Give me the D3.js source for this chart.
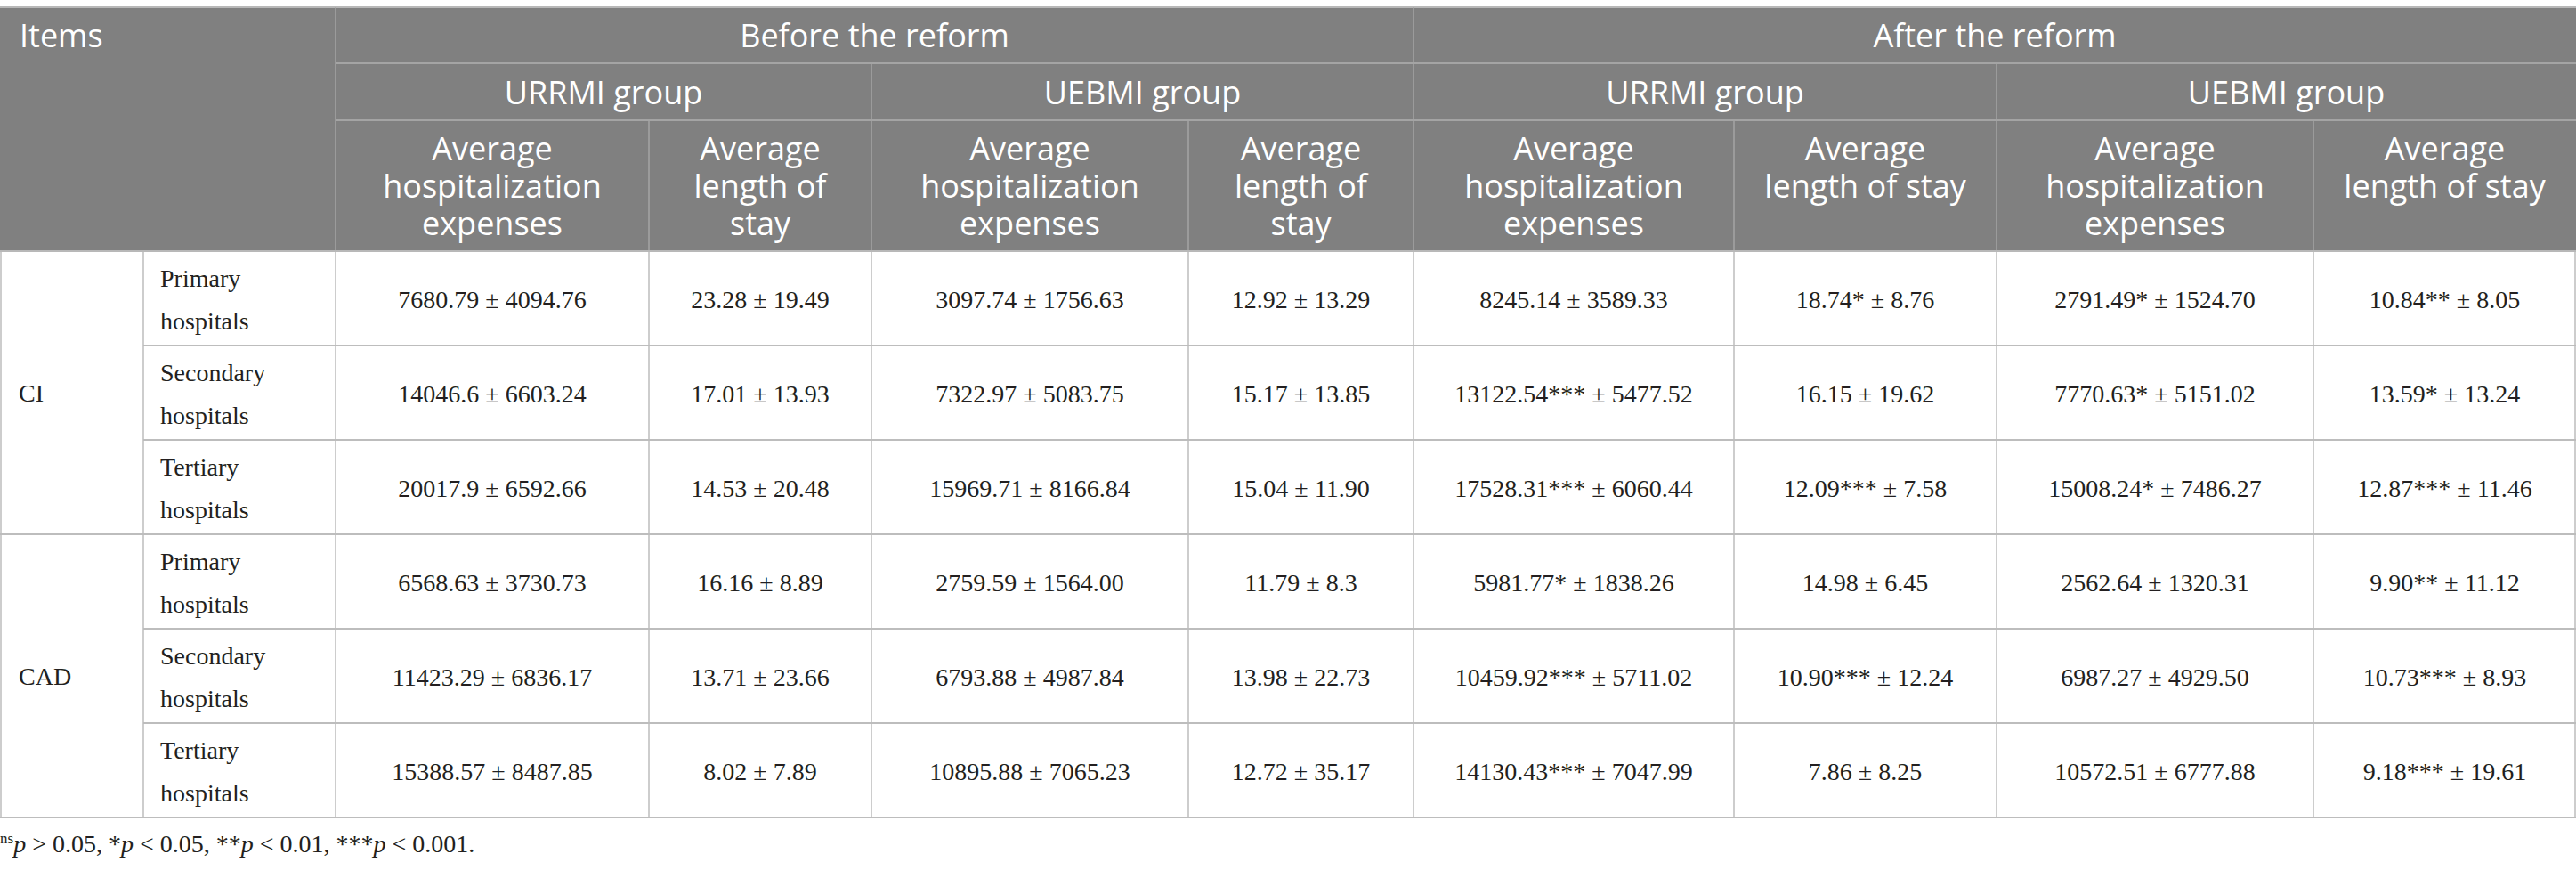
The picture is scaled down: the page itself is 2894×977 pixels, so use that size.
<!DOCTYPE html>
<html>
<head>
<meta charset="utf-8">
<script src="https://cdn.jsdelivr.net/npm/d3@7"></script>
<style>
  body { margin: 0; background: #fff; }
  svg { display: block; }
  .head { font-family: "Open Sans", "Noto Sans", sans-serif; fill: #fff; font-size: 36px; }
  .cell { font-family: "Liberation Serif", "DejaVu Serif", serif; fill: #231f20; font-size: 28px; }
</style>
</head>
<body>
<svg id="table" width="2894" height="977"></svg>
<script>
// ---- table content ----
const diseases = ["CI", "CAD"];
const levels = [["Primary", "hospitals"], ["Secondary", "hospitals"], ["Tertiary", "hospitals"]];
const periods = ["Before the reform", "After the reform"];
const groups = ["URRMI group", "UEBMI group"];
const measureHeads = [
  ["Average", "hospitalization", "expenses"],
  ["Average", "length of", "stay"],
  ["Average", "hospitalization", "expenses"],
  ["Average", "length of", "stay"],
  ["Average", "hospitalization", "expenses"],
  ["Average", "length of stay"],
  ["Average", "hospitalization", "expenses"],
  ["Average", "length of stay"]
];

// rows: CI primary, secondary, tertiary, CAD primary, secondary, tertiary
const beforeUrrmiCost = ["7680.79 ± 4094.76", "14046.6 ± 6603.24", "20017.9 ± 6592.66", "6568.63 ± 3730.73", "11423.29 ± 6836.17", "15388.57 ± 8487.85"];
const beforeUrrmiStay = ["23.28 ± 19.49", "17.01 ± 13.93", "14.53 ± 20.48", "16.16 ± 8.89", "13.71 ± 23.66", "8.02 ± 7.89"];
const beforeUebmiCost = ["3097.74 ± 1756.63", "7322.97 ± 5083.75", "15969.71 ± 8166.84", "2759.59 ± 1564.00", "6793.88 ± 4987.84", "10895.88 ± 7065.23"];
const beforeUebmiStay = ["12.92 ± 13.29", "15.17 ± 13.85", "15.04 ± 11.90", "11.79 ± 8.3", "13.98 ± 22.73", "12.72 ± 35.17"];
const afterUrrmiCost = ["8245.14 ± 3589.33", "13122.54*** ± 5477.52", "17528.31*** ± 6060.44", "5981.77* ± 1838.26", "10459.92*** ± 5711.02", "14130.43*** ± 7047.99"];
const afterUrrmiStay = ["18.74* ± 8.76", "16.15 ± 19.62", "12.09*** ± 7.58", "14.98 ± 6.45", "10.90*** ± 12.24", "7.86 ± 8.25"];
const afterUebmiCost = ["2791.49* ± 1524.70", "7770.63* ± 5151.02", "15008.24* ± 7486.27", "2562.64 ± 1320.31", "6987.27 ± 4929.50", "10572.51 ± 6777.88"];
const afterUebmiStay = ["10.84** ± 8.05", "13.59* ± 13.24", "12.87*** ± 11.46", "9.90** ± 11.12", "10.73*** ± 8.93", "9.18*** ± 19.61"];

const valueCols = [beforeUrrmiCost, beforeUrrmiStay, beforeUebmiCost, beforeUebmiStay,
                   afterUrrmiCost, afterUrrmiStay, afterUebmiCost, afterUebmiStay];

// ---- layout ----
const W = 2894;
const colEdges = [377, 729, 979, 1335, 1588, 1948, 2243, 2599, W]; // data column edges
const stubSplit = 161;
const headTop = 8, headRows = [71, 135], headBottom = 282, bodyBottom = 918;

const svg = d3.select("#table");

const rowY = d3.scaleBand()
  .domain(d3.range(diseases.length * levels.length))
  .range([headBottom, bodyBottom]);

const colX = d3.scaleOrdinal()
  .domain(d3.range(valueCols.length))
  .range(colEdges.slice(0, -1));
const colW = i => colEdges[i + 1] - colEdges[i];

// header background
svg.append("rect")
  .attr("x", 0).attr("y", headTop)
  .attr("width", W).attr("height", headBottom - headTop)
  .attr("fill", "#808080");
svg.append("line")
  .attr("x1", 0).attr("x2", W).attr("y1", headTop).attr("y2", headTop)
  .attr("stroke", "#b8b8b8").attr("stroke-width", 2);

// header grid lines
const hLine = "#a4a4a4";
let hg = svg.append("g").attr("stroke", hLine);
headRows.forEach(y => {
  hg.append("line").attr("x1", colEdges[0]).attr("x2", W).attr("y1", y).attr("y2", y).attr("stroke-width", 2);
});
// period split, full height
[colEdges[0], colEdges[4]].forEach(x => {
  hg.append("line").attr("x1", x).attr("x2", x).attr("y1", headTop).attr("y2", headBottom).attr("stroke-width", 1.5);
});
// group split
[colEdges[2], colEdges[6]].forEach(x => {
  hg.append("line").attr("x1", x).attr("x2", x).attr("y1", headRows[0]).attr("y2", headBottom).attr("stroke-width", 1.5);
});
// measure split
[colEdges[1], colEdges[3], colEdges[5], colEdges[7]].forEach(x => {
  hg.append("line").attr("x1", x).attr("x2", x).attr("y1", headRows[1]).attr("y2", headBottom).attr("stroke-width", 1.5);
});

// header texts
svg.append("text").attr("class", "head").attr("x", 22).attr("y", 53).text("Items");

periods.forEach((p, i) => {
  const x0 = colEdges[i * 4], x1 = colEdges[i * 4 + 4];
  svg.append("text").attr("class", "head")
    .attr("x", (x0 + x1) / 2).attr("y", 53)
    .attr("text-anchor", "middle").text(p);
  groups.forEach((g, j) => {
    const a = colEdges[i * 4 + j * 2], b = colEdges[i * 4 + j * 2 + 2];
    svg.append("text").attr("class", "head")
      .attr("x", (a + b) / 2).attr("y", 117)
      .attr("text-anchor", "middle").text(g);
  });
});

measureHeads.forEach((lines, i) => {
  const t = svg.append("text").attr("class", "head").attr("text-anchor", "middle");
  lines.forEach((s, k) => {
    t.append("tspan")
      .attr("x", colX(i) + colW(i) / 2)
      .attr("y", 180 + k * 42)
      .text(s);
  });
});

// body grid
const bLine = "#bdbdbd";
let bg = svg.append("g").attr("stroke", bLine);
rowY.domain().forEach(r => {
  const y = rowY(r) + rowY.bandwidth();
  const full = (r + 1) % levels.length === 0;
  bg.append("line")
    .attr("x1", full ? 0 : stubSplit).attr("x2", W)
    .attr("y1", y).attr("y2", y).attr("stroke-width", 2);
});
[1, stubSplit].concat(colEdges.slice(0, -1), [W - 1]).forEach(x => {
  bg.append("line").attr("x1", x).attr("x2", x)
    .attr("y1", headBottom).attr("y2", bodyBottom).attr("stroke-width", 1.5);
});
svg.append("line")
  .attr("x1", 0).attr("x2", W).attr("y1", headBottom).attr("y2", headBottom)
  .attr("stroke", "#b8b8b8").attr("stroke-width", 2);

// stub labels
diseases.forEach((d, i) => {
  const top = rowY(i * levels.length);
  const bottom = rowY(i * levels.length + levels.length - 1) + rowY.bandwidth();
  svg.append("text").attr("class", "cell")
    .attr("x", 21).attr("y", (top + bottom) / 2 + 10).text(d);
  levels.forEach((lv, j) => {
    const t = svg.append("text").attr("class", "cell");
    lv.forEach((s, k) => {
      t.append("tspan").attr("x", 180)
        .attr("y", rowY(i * levels.length + j) + 40 + k * 48).text(s);
    });
  });
});

// values
valueCols.forEach((col, c) => {
  svg.append("g").selectAll("text")
    .data(col)
    .join("text")
    .attr("class", "cell")
    .attr("text-anchor", "middle")
    .attr("x", colX(c) + colW(c) / 2)
    .attr("y", (d, r) => rowY(r) + rowY.bandwidth() / 2 + 11)
    .text(d => d);
});

// footnote
const note = svg.append("text").attr("class", "cell").attr("x", 0).attr("y", 957).attr("font-size", 27);
note.append("tspan").attr("font-size", 17).attr("dy", -10).text("ns");
note.append("tspan").attr("font-style", "italic").attr("dy", 10).text("p");
note.append("tspan").text(" > 0.05, *");
note.append("tspan").attr("font-style", "italic").text("p");
note.append("tspan").text(" < 0.05, **");
note.append("tspan").attr("font-style", "italic").text("p");
note.append("tspan").text(" < 0.01, ***");
note.append("tspan").attr("font-style", "italic").text("p");
note.append("tspan").text(" < 0.001.");
</script>
</body>
</html>
